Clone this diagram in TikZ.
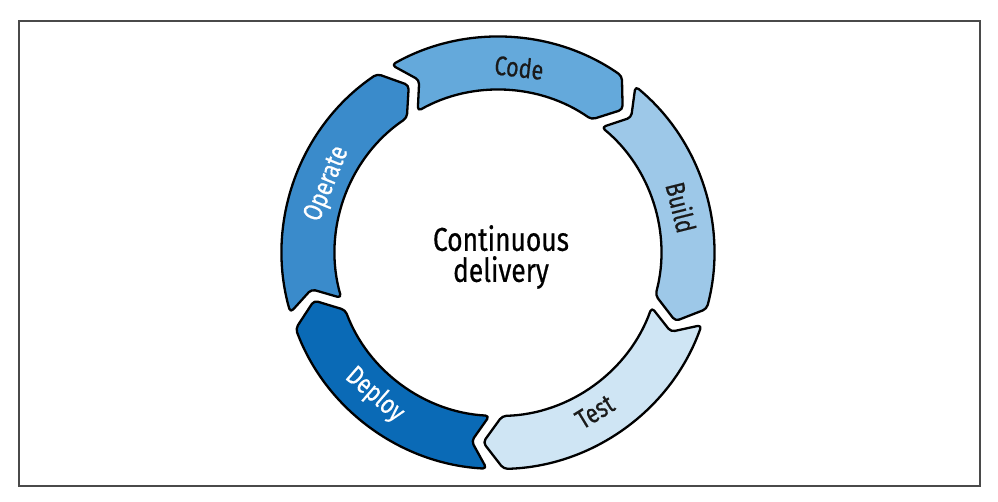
\documentclass[tikz,border=0pt]{standalone}
\usepackage{fontspec}
\newfontfamily\labfont[FakeStretch=0.8, FakeBold=0.5]{Fira Sans}
\definecolor{cCode}{HTML}{64A9DB}
\definecolor{cBuild}{HTML}{9DC8E8}
\definecolor{cTest}{HTML}{CFE5F4}
\definecolor{cDeploy}{HTML}{0A6AB6}
\definecolor{cOperate}{HTML}{3A8BCB}
\definecolor{cFrame}{HTML}{4A4A4A}
\definecolor{cText}{HTML}{1A1A1A}
\newcommand\Ro{216pt}
\newcommand\Ri{163pt}
\newcommand\Rm{190pt}
% #1 = upper boundary (tail side), #2 = lower boundary (head side), #3 = fill colour
\newcommand\cdseg[3]{%
  \filldraw[segbox, fill=#3]
    ({#1-4.5}:\Ro) arc[start angle={#1-4.5}, end angle={#2}, radius=\Ro]
    -- ({#2-6}:\Rm)
    -- ({#2}:\Ri) arc[start angle={#2}, end angle={#1-4.5}, radius=\Ri]
    -- ({#1-9.5}:\Rm) -- cycle;}
\begin{document}
\begin{tikzpicture}[x=1pt,y=1pt,
  segbox/.style={draw=black, line width=2.3pt, rounded corners=4pt, line join=round},
  framebox/.style={draw=cFrame, line width=1.5pt},
  lab/.style={font=\labfont\fontsize{27}{27}\selectfont, text=cText, inner sep=0pt},
  labw/.style={lab, text=white},
  centerlab/.style={font=\labfont\fontsize{33}{31}\selectfont, text=black, align=center, inner sep=0pt}]
\useasboundingbox (0,0) rectangle (998,502);
\draw[framebox] (19,16) rectangle (980,481);
\begin{scope}[shift={(498,249)}]
  \cdseg{124}{55}{cCode}
  \cdseg{55}{-15}{cBuild}
  \cdseg{-15}{-88.5}{cTest}
  \cdseg{-88.5}{-159.5}{cDeploy}
  \cdseg{200.5}{124}{cOperate}
  \node[lab, rotate=-6.5] (code) at (83.5:187pt) {Code};
  \node[lab, rotate=-76] (build) at (14:189pt) {Build};
  \node[lab, rotate=31.4] (test) at (-58.6:186pt) {Test};
  \node[labw, rotate=-41] (deploy) at (-131:188pt) {Deploy};
  \node[labw, rotate=68] (operate) at (158:184pt) {Operate};
  \node[centerlab] (center) at (3,-4) {Continuous\\delivery};
\end{scope}
\end{tikzpicture}
\end{document}
